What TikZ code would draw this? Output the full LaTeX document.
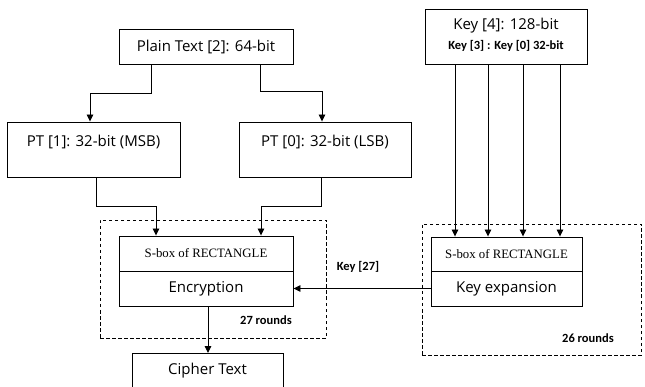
\documentclass[tikz,border=0pt]{standalone}
\usepackage{fontspec}
\setmainfont{Open Sans}
\newfontfamily\serifbox{Liberation Serif}
\newfontfamily\smalllab{Carlito}
\usetikzlibrary{arrows.meta}
\begin{document}
\begin{tikzpicture}[x=1pt,y=-1pt,
  box/.style={draw, line width=0.9pt, inner sep=0pt},
  conn/.style={line width=0.9pt, -{Triangle[length=7pt,width=6.5pt]}},
  plainline/.style={line width=0.9pt},
  grp/.style={draw, line width=0.8pt, dash pattern=on 3.5pt off 2.5pt},
  main/.style={font=\fontsize{15}{17}\selectfont},
  sboxtxt/.style={font=\serifbox\fontsize{12.8}{15}\selectfont},
  lab/.style={font=\smalllab\bfseries\fontsize{12.5}{14}\selectfont}]
\useasboundingbox (0,0) rectangle (645,387);

% plaintext and its halves
\node[box, minimum width=174pt, minimum height=35pt, main] (pt2) at (206,46.5) {Plain Text [2]: 64-bit};
\node[box, minimum width=173pt, minimum height=55pt] (pt1) at (93.5,149.5) {};
\node[main] (pt1t) at (93.5,142) {PT [1]: 32-bit (MSB)};
\node[box, minimum width=172pt, minimum height=55pt] (pt0) at (325,149.5) {};
\node[main] (pt0t) at (325,142) {PT [0]: 32-bit (LSB)};

% master key
\node[box, minimum width=162pt, minimum height=55pt] (key) at (506,36.5) {};
\node[main] (keyt) at (506,26) {Key [4]: 128-bit};
\node[lab] (keys) at (506,46) {Key [3] : Key [0] 32-bit};

% round groups
\node[grp, minimum width=226pt, minimum height=118pt] (grpL) at (213,279) {};
\node[grp, minimum width=219pt, minimum height=131pt] (grpR) at (531.5,289.5) {};

% encryption block
\node[box, minimum width=174pt, minimum height=35pt, sboxtxt] (sb1) at (206,253.5) {S-box of RECTANGLE};
\node[box, minimum width=174pt, minimum height=35pt, main] (enc) at (206,288.5) {Encryption};

% key schedule block
\node[box, minimum width=151pt, minimum height=34pt, sboxtxt] (sb2) at (506.5,254) {S-box of RECTANGLE};
\node[box, minimum width=151pt, minimum height=35pt, main] (kexp) at (506.5,288.5) {Key expansion};

% output box (runs past the lower edge)
\coordinate (ctl) at (132,353);
\coordinate (ctr) at (283,353);
\coordinate (cttop) at (208,353);
\draw[plainline] (132,395) -- (ctl) -- (ctr) -- (283,395);
\node[main] (ct) at (207.5,371) {Cipher Text};

% labels
\node[lab] (r27) at (266,320) {27 rounds};
\node[lab] (r26) at (588,338) {26 rounds};
\node[lab] (k27) at (358,267) {Key [27]};

% plaintext split
\draw[conn] (pt2.south -| 151,0) |- (90,93) -- (pt1.north -| 90,0);
\draw[conn] (pt2.south -| 260,0) |- (322,91) -- (pt0.north -| 322,0);

% halves into the cipher
\draw[conn] (pt1.south -| 96,0) |- (156,206) -- (sb1.north -| 156,0);
\draw[conn] (pt0.south -| 321,0) |- (261,206) -- (sb1.north -| 261,0);

% key words into the key schedule
\foreach \kx in {455,488,523,560}
  \draw[conn] (key.south -| \kx,0) -- (sb2.north -| \kx,0);

% round keys and output
\draw[conn] (kexp.west) -- (enc.east);
\draw[conn] (enc.south -| cttop) -- (cttop);
\end{tikzpicture}
\end{document}
